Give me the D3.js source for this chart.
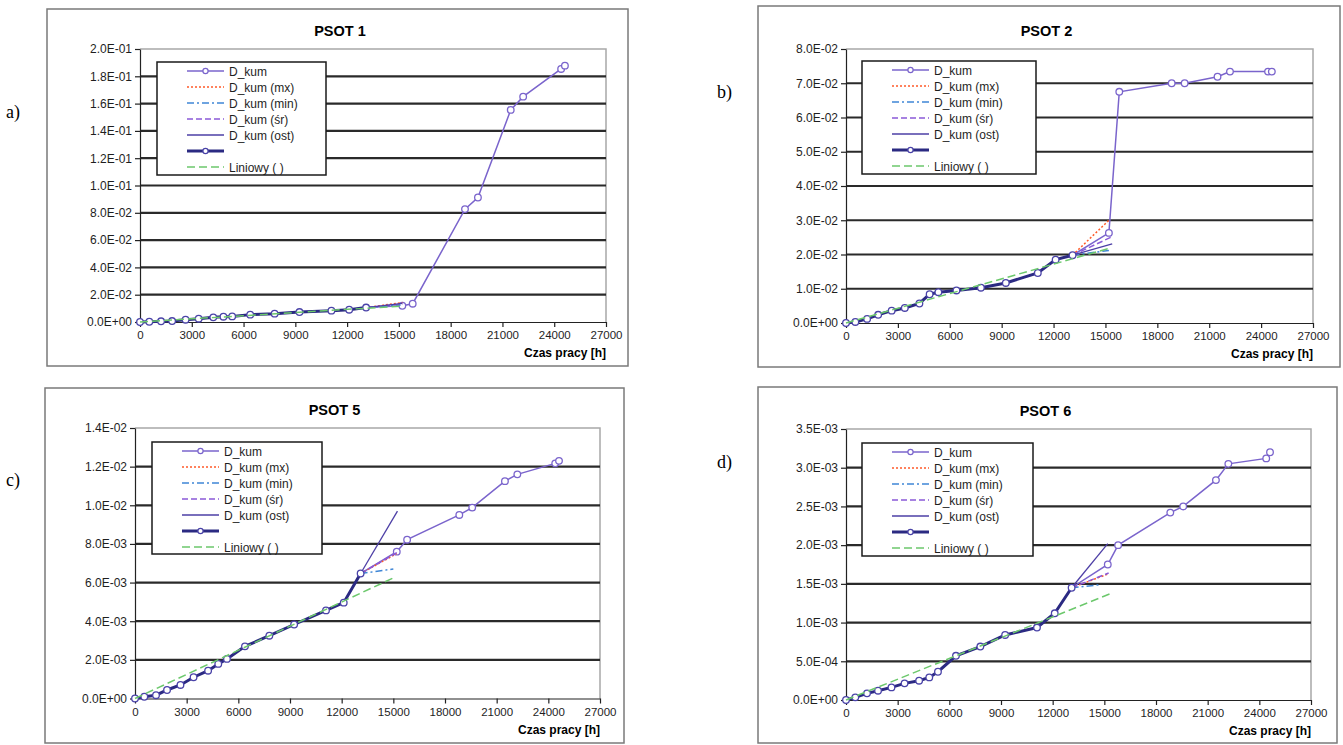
<!DOCTYPE html>
<html>
<head>
<meta charset="utf-8">
<script src="https://cdn.jsdelivr.net/npm/d3@7"></script>
<style>
  body { margin: 0; background: #fff; }
  text { font-family: "Liberation Sans", Arial, sans-serif; }
</style>
</head>
<body>
<svg id="fig" width="1343" height="745"></svg>
<script>
// measurement times (hours) shared by all four charts
var hours = [0, 540, 1220, 1860, 2640, 3400, 4245, 4835, 5340, 6385, 7800, 9240, 11090, 12120, 13100,
             15200, 15800, 18830, 19580, 21480, 22200, 24400, 24620];
var baseCount = 15; // points used for the bold (base) series
var xTicks = [0, 3000, 6000, 9000, 12000, 15000, 18000, 21000, 24000, 27000];
var legendNames = ["D_kum", "D_kum (mx)", "D_kum (min)", "D_kum (\u015br)", "D_kum (ost)", "", "Liniowy ( )"];

// PSOT 1
var dkum1 = [0, 0.0002, 0.0005, 0.0007, 0.0017, 0.0024, 0.0034, 0.0039, 0.0041, 0.0054, 0.0061, 0.0073, 0.0083, 0.0090, 0.0106,
             0.0119, 0.0134, 0.0827, 0.0912, 0.1554, 0.1651, 0.1854, 0.1878];
var mx1  = [[13100, 0.0106], [15200, 0.0142]];
var min1 = [[13100, 0.0106], [15100, 0.0124]];
var sr1  = [[13100, 0.0106], [15200, 0.0131]];
var ost1 = [[13100, 0.0106], [15200, 0.0136]];
var lin1 = [[0, 0.0000], [15200, 0.0117]];
var yTicks1 = [0, 0.02, 0.04, 0.06, 0.08, 0.10, 0.12, 0.14, 0.16, 0.18, 0.20];
var yLabels1 = ["0.0E+00", "2.0E-02", "4.0E-02", "6.0E-02", "8.0E-02", "1.0E-01", "1.2E-01", "1.4E-01", "1.6E-01", "1.8E-01", "2.0E-01"];

// PSOT 2
var dkum2 = [0, 0.0003, 0.0012, 0.0024, 0.0036, 0.0044, 0.0057, 0.0084, 0.0090, 0.0095, 0.0103, 0.0117, 0.0146, 0.0185, 0.0198,
             0.0263, 0.0675, 0.0700, 0.0700, 0.0719, 0.0734, 0.0734, 0.0734];
var mx2  = [[13100, 0.0198], [15200, 0.0300]];
var min2 = [[13100, 0.0198], [15200, 0.0212]];
var sr2  = [[13100, 0.0198], [15300, 0.0250]];
var ost2 = [[13100, 0.0198], [15390, 0.0231]];
var lin2 = [[0, 0.0000], [15150, 0.0217]];
var yTicks2 = [0, 0.01, 0.02, 0.03, 0.04, 0.05, 0.06, 0.07, 0.08];
var yLabels2 = ["0.0E+00", "1.0E-02", "2.0E-02", "3.0E-02", "4.0E-02", "5.0E-02", "6.0E-02", "7.0E-02", "8.0E-02"];

// PSOT 5
var dkum5 = [0, 0.00009, 0.00017, 0.00044, 0.00070, 0.00110, 0.00144, 0.00179, 0.00205, 0.00270, 0.00325, 0.00383, 0.00456, 0.00496, 0.00647,
             0.00760, 0.00822, 0.00950, 0.00988, 0.01125, 0.01160, 0.01217, 0.01230];
var mx5  = [[13100, 0.00647], [15200, 0.00750]];
var min5 = [[13100, 0.00647], [15000, 0.00670]];
var sr5  = [[13100, 0.00647], [15200, 0.00755]];
var ost5 = [[13100, 0.00647], [15240, 0.00970]];
var lin5 = [[0, 0.00000], [14950, 0.00622]];
var yTicks5 = [0, 0.002, 0.004, 0.006, 0.008, 0.010, 0.012, 0.014];
var yLabels5 = ["0.0E+00", "2.0E-03", "4.0E-03", "6.0E-03", "8.0E-03", "1.0E-02", "1.2E-02", "1.4E-02"];

// PSOT 6
var dkum6 = [0, 0.000034, 0.000086, 0.00012, 0.000163, 0.000215, 0.000249, 0.000292, 0.000365, 0.000571, 0.00069, 0.00084, 0.000936, 0.00112, 0.00145,
             0.00175, 0.00200, 0.00242, 0.00250, 0.00284, 0.00305, 0.00312, 0.00320];
var mx6  = [[13100, 0.00145], [15250, 0.00163]];
var min6 = [[13100, 0.00145], [14800, 0.00149]];
var sr6  = [[13100, 0.00145], [15250, 0.00164]];
var ost6 = [[13100, 0.00145], [15200, 0.00202]];
var lin6 = [[0, 0.00000], [15430, 0.00138]];
var yTicks6 = [0, 0.0005, 0.001, 0.0015, 0.002, 0.0025, 0.003, 0.0035];
var yLabels6 = ["0.0E+00", "5.0E-04", "1.0E-03", "1.5E-03", "2.0E-03", "2.5E-03", "3.0E-03", "3.5E-03"];

var colDkum = "#7a64cc", colMx = "#ff5a28", colMin = "#3f86d6", colSr = "#8a5ad8",
    colOst = "#4d3fa6", colBase = "#2b2a82", colLin = "#6cc86c";

var panels = [
  { title: "PSOT 1", tag: "a)", dkum: dkum1, mx: mx1, min: min1, sr: sr1, ost: ost1, lin: lin1, yTicks: yTicks1, yLabels: yLabels1,
    frame: [47, 9, 628, 366], x0: 140, x1: 606, y0: 322, yTop: 49, leg: [157, 62, 326, 175], tagPos: [6, 118] },
  { title: "PSOT 2", tag: "b)", dkum: dkum2, mx: mx2, min: min2, sr: sr2, ost: ost2, lin: lin2, yTicks: yTicks2, yLabels: yLabels2,
    frame: [758, 6, 1340, 367], x0: 846, x1: 1313, y0: 323, yTop: 49, leg: [862, 61, 1036, 174], tagPos: [717, 98] },
  { title: "PSOT 5", tag: "c)", dkum: dkum5, mx: mx5, min: min5, sr: sr5, ost: ost5, lin: lin5, yTicks: yTicks5, yLabels: yLabels5,
    frame: [45, 388, 624, 743], x0: 135, x1: 600, y0: 698.5, yTop: 428, leg: [152, 442, 322, 554], tagPos: [6, 486] },
  { title: "PSOT 6", tag: "d)", dkum: dkum6, mx: mx6, min: min6, sr: sr6, ost: ost6, lin: lin6, yTicks: yTicks6, yLabels: yLabels6,
    frame: [758, 387, 1337, 743], x0: 846, x1: 1311, y0: 700, yTop: 429, leg: [862, 443, 1033, 556], tagPos: [717, 468] }
];

var svg = d3.select("#fig");

function drawPanel(p) {
  var g = svg.append("g");

  // chart frame
  g.append("rect")
    .attr("x", p.frame[0]).attr("y", p.frame[1])
    .attr("width", p.frame[2] - p.frame[0]).attr("height", p.frame[3] - p.frame[1])
    .attr("fill", "#fff").attr("stroke", "#7a7a7a").attr("stroke-width", 1.5);

  g.append("text")
    .attr("x", p.tagPos[0]).attr("y", p.tagPos[1])
    .style("font-family", "'Liberation Serif', 'Times New Roman', serif")
    .style("font-size", "18px")
    .text(p.tag);

  var x = d3.scaleLinear().domain([0, 27000]).range([p.x0, p.x1]);
  var y = d3.scaleLinear().domain([0, p.yTicks[p.yTicks.length - 1]]).range([p.y0, p.yTop]);

  // plot area border (top / right) in light gray
  g.append("path")
    .attr("d", "M" + x(0) + "," + y.range()[1] + "H" + x(27000) + "V" + y(0))
    .attr("fill", "none").attr("stroke", "#a8a8a8").attr("stroke-width", 1.5);

  // horizontal grid lines
  g.selectAll(".grid")
    .data(p.yTicks.slice(1, -1))
    .enter().append("line")
    .attr("x1", x(0)).attr("x2", x(27000))
    .attr("y1", function(d) { return y(d); })
    .attr("y2", function(d) { return y(d); })
    .attr("stroke", "#2a2a2a").attr("stroke-width", 2.2);

  // axes
  var xAxis = g.append("g")
    .attr("transform", "translate(0," + p.y0 + ")")
    .call(d3.axisBottom(x).tickValues(xTicks).tickSize(5).tickSizeOuter(0).tickPadding(4).tickFormat(d3.format("d")));
  var yAxis = g.append("g")
    .attr("transform", "translate(" + p.x0 + ",0)")
    .call(d3.axisLeft(y).tickValues(p.yTicks).tickSize(5).tickSizeOuter(0).tickPadding(3)
      .tickFormat(function(d, i) { return p.yLabels[i]; }));
  [xAxis, yAxis].forEach(function(a) {
    a.attr("font-family", "'Liberation Sans', Arial, sans-serif");
    a.selectAll("path, line").attr("stroke", "#222").attr("stroke-width", 1.2);
    a.selectAll("text").attr("fill", "#1e1e1e");
  });
  xAxis.attr("font-size", 11.5);
  yAxis.attr("font-size", 12);

  // title + axis caption
  g.append("text")
    .attr("x", (p.x0 + p.x1) / 2 - 33).attr("y", p.yTop - 13)
    .attr("text-anchor", "middle")
    .style("font-size", "14.5px").style("font-weight", "bold")
    .text(p.title);
  g.append("text")
    .attr("x", p.x1).attr("y", p.y0 + 35)
    .attr("text-anchor", "end")
    .style("font-size", "12px").style("font-weight", "bold")
    .text("Czas pracy [h]");

  var line = d3.line().x(function(d) { return x(d[0]); }).y(function(d) { return y(d[1]); });
  var pts = hours.map(function(h, i) { return [h, p.dkum[i]]; });
  var base = pts.slice(0, baseCount);

  // D_kum
  g.append("path").datum(pts).attr("d", line)
    .attr("fill", "none").attr("stroke", colDkum).attr("stroke-width", 1.5);
  g.selectAll(".mk").data(pts.slice(baseCount)).enter().append("circle")
    .attr("cx", function(d) { return x(d[0]); }).attr("cy", function(d) { return y(d[1]); })
    .attr("r", 3.3).attr("fill", "#fff").attr("stroke", colDkum).attr("stroke-width", 1.3);

  // forecast lines
  g.append("path").datum(p.mx).attr("d", line)
    .attr("fill", "none").attr("stroke", colMx).attr("stroke-width", 1.5).attr("stroke-dasharray", "2,2");
  g.append("path").datum(p.min).attr("d", line)
    .attr("fill", "none").attr("stroke", colMin).attr("stroke-width", 1.5).attr("stroke-dasharray", "7,3,2,3");
  g.append("path").datum(p.sr).attr("d", line)
    .attr("fill", "none").attr("stroke", colSr).attr("stroke-width", 1.5).attr("stroke-dasharray", "6,3");
  g.append("path").datum(p.ost).attr("d", line)
    .attr("fill", "none").attr("stroke", colOst).attr("stroke-width", 1.3);

  // bold base series
  g.append("path").datum(base).attr("d", line)
    .attr("fill", "none").attr("stroke", colBase).attr("stroke-width", 3);
  g.selectAll(".bm").data(base).enter().append("circle")
    .attr("cx", function(d) { return x(d[0]); }).attr("cy", function(d) { return y(d[1]); })
    .attr("r", 3.3).attr("fill", "#fff").attr("stroke", "#4a43a8").attr("stroke-width", 1.3);

  // linear trend
  g.append("path").datum(p.lin).attr("d", line)
    .attr("fill", "none").attr("stroke", colLin).attr("stroke-width", 1.5).attr("stroke-dasharray", "8,4");

  // legend
  var L = p.leg;
  var lg = g.append("g");
  lg.append("rect")
    .attr("x", L[0]).attr("y", L[1]).attr("width", L[2] - L[0]).attr("height", L[3] - L[1])
    .attr("fill", "#fff").attr("stroke", "#1a1a1a").attr("stroke-width", 1.5);
  var styles = [
    { c: colDkum, w: 1.5, dash: null, mark: true },
    { c: colMx, w: 1.5, dash: "2,2" },
    { c: colMin, w: 1.5, dash: "7,3,2,3" },
    { c: colSr, w: 1.5, dash: "6,3" },
    { c: colOst, w: 1.3, dash: null },
    { c: colBase, w: 3, dash: null, mark: true },
    { c: colLin, w: 1.5, dash: "8,4" }
  ];
  legendNames.forEach(function(name, i) {
    var yy = L[1] + 9 + i * 16;
    var s = styles[i];
    var sx0 = L[0] + 30, sx1 = L[0] + 67;
    lg.append("line").attr("x1", sx0).attr("x2", sx1).attr("y1", yy).attr("y2", yy)
      .attr("stroke", s.c).attr("stroke-width", s.w).attr("stroke-dasharray", s.dash);
    if (s.mark) {
      lg.append("circle").attr("cx", (sx0 + sx1) / 2).attr("cy", yy).attr("r", 2.6)
        .attr("fill", "#fff").attr("stroke", i === 5 ? "#4a43a8" : colDkum).attr("stroke-width", 1.2);
    }
    lg.append("text").attr("x", L[0] + 72).attr("y", yy + 4.5)
      .style("font-size", "12px").attr("fill", "#1e1e1e").text(name);
  });
}

panels.forEach(drawPanel);
</script>
</body>
</html>
